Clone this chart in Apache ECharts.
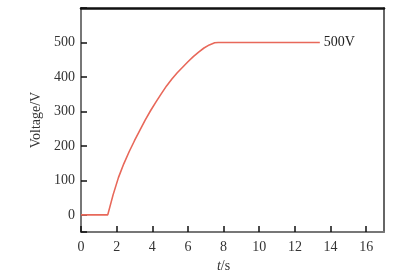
<!DOCTYPE html>
<html><head><meta charset="utf-8">
<script src="https://cdn.jsdelivr.net/npm/echarts@6/dist/echarts.min.js"></script>
<style>html,body{margin:0;padding:0;background:#fff}#c{width:402px;height:278px}</style>
</head><body><div id="c"></div>
<script>
var timeS = [0, 1.5, 1.8, 2.1, 2.4, 2.7, 3.0, 3.3, 3.6, 3.9, 4.2, 4.5, 4.8, 5.1, 5.4, 5.7, 6.0, 6.3, 6.6, 6.9, 7.2, 7.5, 7.7, 13.4];
var voltage = [0, 0, 58, 108, 148, 183, 215, 245, 275, 302, 327, 351, 374, 394, 412, 428, 444, 459, 472, 484, 493, 499, 500, 500];
var xTicks = [0, 2, 4, 6, 8, 10, 12, 14, 16];
var yTicks = [0, 100, 200, 300, 400, 500];
var endText = '500V';

var serif = '"Liberation Serif","DejaVu Serif",serif';
var chart = echarts.init(document.getElementById('c'), null, {renderer: 'canvas'});
chart.setOption({
  animation: false,
  backgroundColor: '#fff',
  grid: {left: 81, right: 18, top: 8, bottom: 39},
  xAxis: [{
    type: 'value', min: 0, max: 17, interval: 2,
    axisLine: {show: true, onZero: false, lineStyle: {color: '#777', width: 2}},
    axisTick: {show: true, inside: true, length: 6, lineStyle: {color: '#111', width: 1.5}},
    axisLabel: {color: '#333', fontFamily: serif, fontSize: 14, margin: 8, showMaxLabel: false},
    splitLine: {show: false},
    name: '{i|t}/s', nameLocation: 'middle', nameGap: 24,
    nameTextStyle: {color: '#333', fontFamily: serif, fontSize: 14, padding: [0, 18, 0, 0],
      rich: {i: {fontStyle: 'italic', fontFamily: serif, fontSize: 14, color: '#333'}}}
  }, {
    type: 'value', position: 'top', min: 0, max: 17,
    axisLine: {show: true, onZero: false, lineStyle: {color: '#111', width: 2.5}},
    axisTick: {show: false}, axisLabel: {show: false}, splitLine: {show: false}
  }],
  yAxis: [{
    type: 'value', min: -50, max: 600, splitNumber: 6,
    axisLine: {show: true, onZero: false, lineStyle: {color: '#777', width: 2}},
    axisTick: {show: true, inside: true, length: 6, lineStyle: {color: '#111', width: 1.5}},
    axisLabel: {color: '#333', fontFamily: serif, fontSize: 14, margin: 6,
      showMinLabel: true, showMaxLabel: true,
      formatter: function (v) { return yTicks.indexOf(v) >= 0 ? String(v) : ''; }},
    splitLine: {show: false},
    name: 'Voltage/V', nameLocation: 'middle', nameGap: 34,
    nameTextStyle: {color: '#333', fontFamily: serif, fontSize: 14}
  }, {
    type: 'value', position: 'right', min: -50, max: 600,
    axisLine: {show: true, onZero: false, lineStyle: {color: '#333', width: 1.5}},
    axisTick: {show: false}, axisLabel: {show: false}, splitLine: {show: false}
  }],
  series: [{
    type: 'line', xAxisIndex: 0, yAxisIndex: 0,
    data: timeS.map(function (t, i) { return [t, voltage[i]]; }),
    showSymbol: false, smooth: false,
    lineStyle: {color: '#e8685a', width: 1.6},
    endLabel: {show: true, formatter: endText, color: '#222', fontFamily: serif, fontSize: 14, distance: 4}
  }]
});
</script></body></html>
